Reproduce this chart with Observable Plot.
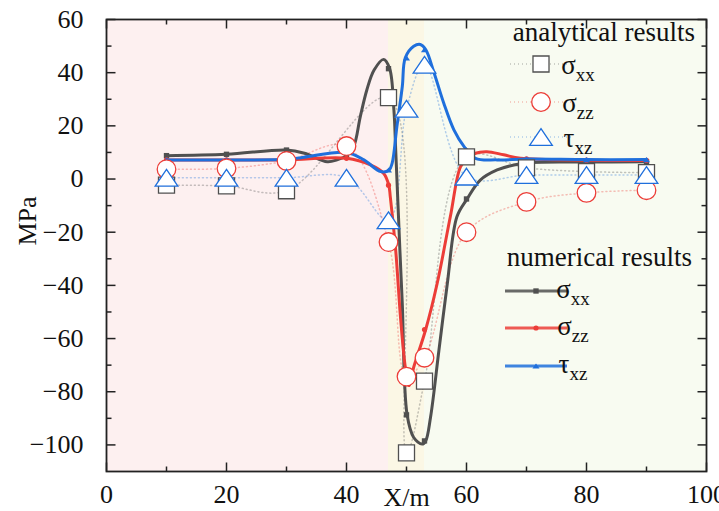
<!DOCTYPE html>
<html>
<head>
<meta charset="utf-8">
<script src="https://cdn.jsdelivr.net/npm/d3@7"></script>
<script src="https://cdn.jsdelivr.net/npm/@observablehq/plot@0.6"></script>
<style>
  html, body { margin: 0; padding: 0; background: #fff; }
</style>
</head>
<body>
<script>
// ---------- data ----------
// sample positions (markers)
const xPos = [10, 20, 30, 40, 47, 50, 53, 60, 70, 80, 90];

// numerical results: marker values at the sample positions
const numSxx = [8.8, 9.3, 10.9, 8.8, 41.5, -88.7, -98.5, -7.5, 6.2, 6.4, 6.5];
const numSzz = [7.2, 7.2, 7.2, 7.8, -2.3, -77.0, -56.6, 6.5, 7.6, 7.1, 7.0];
const numTxz = [7.2, 7.2, 7.4, 10.0, 3.4, 45.6, 48.7, 11.0, 7.5, 7.3, 7.3];

// numerical results: curve (solid lines)
const lineSxxX = [10, 20, 30, 33, 36.8, 38.4, 40, 41.2, 42.3, 43.4, 44.6, 46.2, 47.2, 47.9, 48.2, 48.9, 49.3, 50.1, 51.2, 52.6, 53.2, 54, 55.4, 56.8, 58.4, 60.1, 62.3, 65.1, 67.9, 70.7, 80, 90];
const lineSxxY = [8.8, 9.3, 10.9, 9.7, 6.5, 7.2, 8.8, 12.2, 23.5, 33.6, 41, 45, 41.5, 26, 11, -26.8, -47, -88.7, -97.2, -99.7, -98.5, -89.7, -64.5, -39.4, -14.2, -7.5, -0.4, 3.4, 5.3, 6.2, 6.4, 6.5];
const lineSzzX = [10, 20, 30, 40, 44, 46.2, 47.05, 47.3, 48.2, 49, 49.8, 50.4, 51.2, 53.2, 55.1, 57.3, 59, 60, 61.5, 63.4, 66.2, 69, 80, 90];
const lineSzzY = [7.2, 7.2, 7.2, 7.8, 5.3, 2.1, -2.3, -6.7, -26.8, -52, -70.8, -77.7, -70.8, -56.6, -39.4, -14.2, 4.6, 7.2, 9.7, 10.3, 9.1, 7.8, 7.1, 7.0];
const lineTxzX = [10, 20, 30, 32.9, 40, 42.9, 45.7, 47.1, 47.6, 48.4, 49.3, 49.8, 51.2, 52.3, 53.2, 54.6, 56.2, 57.9, 59.6, 61.5, 65.1, 70, 80, 90];
const lineTxzY = [7.2, 7.2, 7.4, 8.2, 10.0, 7.2, 2.8, 3.4, 5.9, 19.7, 34.8, 45.6, 49.9, 50.6, 48.7, 39.9, 28.6, 18.5, 12.2, 7.8, 7.2, 7.5, 7.3, 7.3];

// analytical results (open markers, dotted lines)
const anaSxx = [-2.3, -2.6, -4.4, null, 30.6, -103, -76, 8.3, 4.2, 2.8, 2.4];
const anaSzz = [3.7, 4.0, 6.8, 12.4, -23.7, -74.3, -67.2, -20, -8.6, -5.2, -4.2];
const anaTxz = [0.5, 0.5, 0.5, 0.5, -15.5, 26.4, 43, 0.9, 1.5, 1.5, 1.5];

// background zones along X
const zoneStart = [0, 47, 53];
const zoneEnd = [47, 53, 100];

// ticks
const xTickMajor = [0, 20, 40, 60, 80, 100];
const xTickMinor = [10, 30, 50, 70, 90];
const yTickMajor = [-100, -80, -60, -40, -20, 0, 20, 40, 60];
const yTickMinor = [-90, -70, -50, -30, -10, 10, 30, 50];

// ---------- styles ----------
const FONT = '"Liberation Serif", "Times New Roman", serif';
const cGray = "#505050", cRed = "#ec3d38", cBlue = "#1f6fdc";
const zoneColors = ["#fdf0f0", "#fbf7e5", "#f8fbf1"];
const axisColor = "#222";

const numData = xPos.map((x, i) => ({x, sxx: numSxx[i], szz: numSzz[i], txz: numTxz[i]}));
const sxxLine = lineSxxX.map((x, i) => ({x, y: lineSxxY[i]}));
const szzLine = lineSzzX.map((x, i) => ({x, y: lineSzzY[i]}));
const txzLine = lineTxzX.map((x, i) => ({x, y: lineTxzY[i]}));
const anaData = xPos.map((x, i) => ({x, sxx: anaSxx[i], szz: anaSzz[i], txz: anaTxz[i]}));
const anaSxxData = anaData.filter(d => d.sxx != null);
const zones = zoneStart.map((s, i) => ({x1: s, x2: zoneEnd[i], c: zoneColors[i]}));

// custom symbols
const sqSym = {draw(ctx, size) { const r = Math.sqrt(size / Math.PI), h = 0.89 * r; ctx.rect(-h, -h, 2 * h, 2 * h); }};
const triSym = {draw(ctx, size) { const r = Math.sqrt(size / Math.PI), hw = 1.26 * r, hh = 0.93 * r;
  ctx.moveTo(0, -hh); ctx.lineTo(hw, hh); ctx.lineTo(-hw, hh); ctx.closePath(); }};
const circSym = {draw(ctx, size) { const r = Math.sqrt(size / Math.PI); ctx.moveTo(r, 0); ctx.arc(0, 0, r, 0, 2 * Math.PI); }};
const lineSym = (dx, dy) => ({draw(ctx) { ctx.moveTo(0, 0); ctx.lineTo(dx, dy); }});

const fontSize = 26;
const fmt = d => String(d).replace("-", "\u2212");
const dotted = {strokeWidth: 1.5, strokeDasharray: "1,3", strokeOpacity: 0.33, curve: "catmull-rom"};
const solid = {strokeWidth: 3, curve: "catmull-rom"};
const tickStyle = {fill: "none", stroke: axisColor, strokeWidth: 1.5};

const plot = Plot.plot({
  width: 719,
  height: 511,
  marginLeft: 106,
  marginRight: 13,
  marginTop: 19,
  marginBottom: 40,
  style: {fontFamily: FONT, background: "white"},
  x: {domain: [0, 100], axis: null},
  y: {domain: [-110, 60], axis: null},
  marks: [
    Plot.rect(zones, {x1: "x1", x2: "x2", fill: "c"}),
    // analytical dotted curves
    Plot.line(anaSxxData, {x: "x", y: "sxx", stroke: cGray, ...dotted}),
    Plot.line(anaData, {x: "x", y: "szz", stroke: cRed, ...dotted}),
    Plot.line(anaData, {x: "x", y: "txz", stroke: cBlue, ...dotted}),
    // numerical curves
    Plot.line(sxxLine, {x: "x", y: "y", stroke: cGray, ...solid}),
    Plot.dot(numData, {x: "x", y: "sxx", symbol: sqSym, r: 3, fill: cGray, stroke: "none"}),
    Plot.line(szzLine, {x: "x", y: "y", stroke: cRed, ...solid}),
    Plot.dot(numData, {x: "x", y: "szz", symbol: circSym, r: 2.6, fill: cRed, stroke: "none"}),
    Plot.line(txzLine, {x: "x", y: "y", stroke: cBlue, ...solid}),
    Plot.dot(numData, {x: "x", y: "txz", symbol: triSym, r: 2.8, fill: cBlue, stroke: "none"}),
    // analytical markers
    Plot.dot(anaSxxData, {x: "x", y: "sxx", symbol: sqSym, r: 9, fill: "white", stroke: cGray, strokeWidth: 1.3}),
    Plot.dot(anaData, {x: "x", y: "szz", symbol: circSym, r: 9.3, fill: "white", stroke: cRed, strokeWidth: 1.3}),
    Plot.dot(anaData, {x: "x", y: "txz", symbol: triSym, r: 9, fill: "white", stroke: cBlue, strokeWidth: 1.3}),
    // frame & ticks (inward, mirrored)
    Plot.frame({stroke: axisColor, strokeWidth: 1.8}),
    Plot.dot(yTickMajor, {y: d => d, frameAnchor: "left", symbol: lineSym(9, 0), ...tickStyle}),
    Plot.dot(yTickMajor, {y: d => d, frameAnchor: "right", symbol: lineSym(-9, 0), ...tickStyle}),
    Plot.dot(yTickMinor, {y: d => d, frameAnchor: "left", symbol: lineSym(5, 0), ...tickStyle}),
    Plot.dot(yTickMinor, {y: d => d, frameAnchor: "right", symbol: lineSym(-5, 0), ...tickStyle}),
    Plot.dot(xTickMajor, {x: d => d, frameAnchor: "bottom", symbol: lineSym(0, -9), ...tickStyle}),
    Plot.dot(xTickMajor, {x: d => d, frameAnchor: "top", symbol: lineSym(0, 9), ...tickStyle}),
    Plot.dot(xTickMinor, {x: d => d, frameAnchor: "bottom", symbol: lineSym(0, -5), ...tickStyle}),
    Plot.dot(xTickMinor, {x: d => d, frameAnchor: "top", symbol: lineSym(0, 5), ...tickStyle}),
    // tick labels
    Plot.text(yTickMajor, {y: d => d, text: fmt, frameAnchor: "left", textAnchor: "end", dx: -23, fontSize, fill: "#111"}),
    Plot.text(xTickMajor, {x: d => d, text: fmt, frameAnchor: "bottom", lineAnchor: "bottom", dy: 31, fontSize, fill: "#111"}),
    // axis labels
    Plot.text(["X/m"], {frameAnchor: "bottom", lineAnchor: "bottom", dy: 34, fontSize, fill: "#111"}),
    Plot.text(["MPa"], {frameAnchor: "left", rotate: -90, dx: -79, fontSize, fill: "#111"})
  ]
});

document.body.appendChild(plot);

// ---------- legend ----------
const svg = d3.select(plot);
const lg = svg.append("g").attr("font-family", FONT).attr("fill", "#111");
const legFont = 27, subFont = 19;

function label(g, x, y, main, sub) {
  const t = g.append("text").attr("x", x).attr("y", y).attr("font-size", legFont).text(main);
  t.append("tspan").attr("font-size", subFont).attr("dy", 7).text(sub);
}

lg.append("text").attr("x", 695).attr("y", 41).attr("text-anchor", "end").attr("font-size", legFont).text("analytical results");
const anaRows = [
  {sym: sqSym, r: 9, c: cGray, main: "σ", sub: "xx"},
  {sym: circSym, r: 9.3, c: cRed, main: "σ", sub: "zz"},
  {sym: triSym, r: 9, c: cBlue, main: "τ", sub: "xz"}
];
const anaRowY = [64, 102, 137];
anaRows.forEach((row, i) => {
  const y = anaRowY[i];
  lg.append("line").attr("x1", 510).attr("x2", 572).attr("y1", y).attr("y2", y)
    .attr("stroke", row.c).attr("stroke-width", 1.5).attr("stroke-dasharray", "1,3").attr("stroke-opacity", 0.33);
  lg.append("path").attr("transform", `translate(541,${y})`)
    .attr("d", d3.symbol(row.sym, Math.PI * row.r * row.r)())
    .attr("fill", "white").attr("stroke", row.c).attr("stroke-width", 1.3);
  label(lg, 578, y + 10, row.main, row.sub);
});

lg.append("text").attr("x", 692).attr("y", 266).attr("text-anchor", "end").attr("font-size", legFont).text("numerical results");
const numRows = [
  {sym: sqSym, r: 3, c: cGray, main: "σ", sub: "xx"},
  {sym: circSym, r: 2.6, c: cRed, main: "σ", sub: "zz"},
  {sym: triSym, r: 2.8, c: cBlue, main: "τ", sub: "xz"}
];
const numRowY = [291, 328, 366];
numRows.forEach((row, i) => {
  const y = numRowY[i];
  lg.append("line").attr("x1", 505).attr("x2", 567).attr("y1", y).attr("y2", y)
    .attr("stroke", row.c).attr("stroke-width", 3).attr("stroke-opacity", 0.85);
  lg.append("path").attr("transform", `translate(536,${y})`)
    .attr("d", d3.symbol(row.sym, Math.PI * row.r * row.r)())
    .attr("fill", row.c);
  label(lg, 573, y + 7, row.main, row.sub);
});
</script>
</body>
</html>
